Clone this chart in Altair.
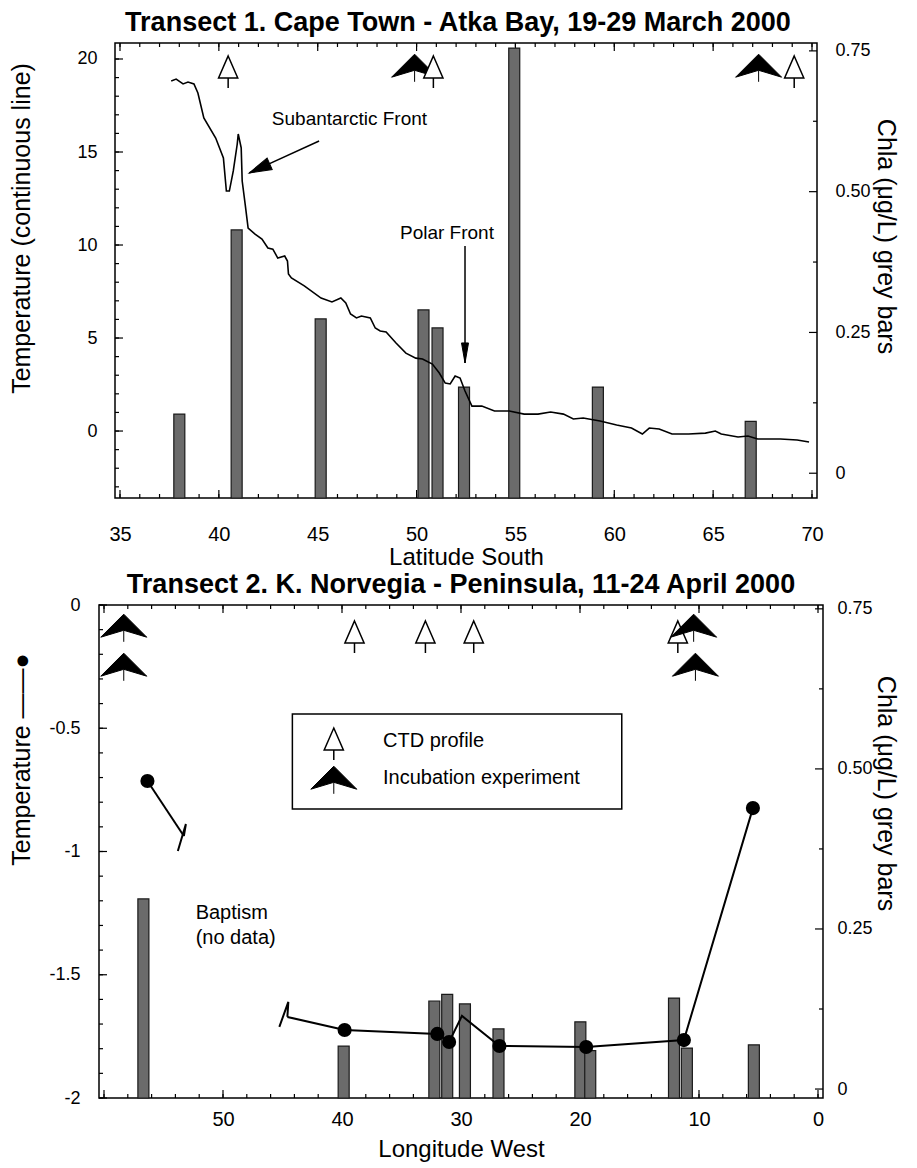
import altair as alt
import pandas as pd

# ---------------- Transect 1 : Cape Town - Atka Bay ----------------
t1_lat = [37.59, 37.84, 38.19, 38.44, 38.74, 38.94, 39.24, 39.84, 40.23, 40.38, 40.53, 40.73, 40.93, 40.98,
          41.13, 41.18, 41.33, 41.48, 41.83, 42.18, 42.48, 42.73, 42.98, 43.33, 43.47, 43.52, 43.67, 44.32,
          45.17, 45.72, 46.17, 46.42, 46.66, 46.96, 47.21, 47.66, 47.91, 48.16, 48.46, 48.96, 49.46, 49.96,
          50.30, 50.80, 51.15, 51.45, 51.70, 51.95, 52.20, 52.45, 52.80, 53.30, 53.94, 54.69, 55.44, 56.14,
          56.78, 57.43, 57.93, 58.43, 59.28, 60.12, 60.87, 61.42, 61.77, 62.27, 62.92, 63.76, 64.61, 65.11,
          65.41, 66.26, 66.76, 67.25, 68.40, 69.25, 69.85]
t1_temp = [18.82, 18.92, 18.66, 18.76, 18.66, 18.17, 16.83, 15.75, 14.68, 12.90, 12.90, 13.98, 15.43, 15.97,
           15.22, 13.44, 12.20, 10.91, 10.59, 10.32, 9.84, 9.78, 9.30, 9.41, 9.14, 8.44, 8.23, 7.80,
           7.15, 6.94, 7.15, 6.88, 6.29, 6.08, 6.18, 6.08, 5.54, 5.38, 5.32, 4.73, 4.19, 3.92,
           3.87, 3.60, 3.12, 2.58, 2.53, 2.96, 2.85, 2.15, 1.34, 1.34, 1.08, 1.08, 0.91, 0.91,
           1.02, 0.91, 0.65, 0.70, 0.54, 0.32, 0.16, -0.16, 0.16, 0.11, -0.16, -0.16, -0.11, 0.0,
           -0.16, -0.32, -0.27, -0.43, -0.43, -0.48, -0.59]
t1_bar_lat = [38.0, 40.9, 45.15, 50.35, 51.06, 52.4, 54.94, 59.17, 66.9]
t1_bar_chla = [0.105, 0.432, 0.274, 0.290, 0.258, 0.153, 0.755, 0.153, 0.092]
t1_ctd_lat = [40.47, 50.85, 69.1]
t1_inc_lat = [49.9, 67.3]
t1_text = ["Subantarctic Front", "Polar Front"]
t1_text_lat = [42.68, 49.16]
t1_text_temp = [16.77, 10.65]
t1_arrow_lat = [45.07, 52.45]
t1_arrow_temp = [15.59, 9.95]
t1_arrow_tip_lat = [41.53, 52.45]
t1_arrow_tip_temp = [13.87, 3.66]
t1_x_major = [35, 40, 45, 50, 55, 60, 65, 70]
t1_x_minor = list(range(35, 71))
t1_temp_major = [0, 5, 10, 15, 20]
t1_temp_minor = list(range(-3, 21))
t1_chla_major = [0, 0.25, 0.5, 0.75]
t1_chla_minor = [0.125, 0.375, 0.625]

# ---------------- Transect 2 : K. Norvegia - Peninsula ----------------
t2_line_seg = [1, 1, 2, 2, 2, 2, 2, 2, 2, 2, 2]
t2_line_lon = [56.35, 53.29, 44.59, 39.78, 31.99, 31.0, 29.92, 26.77, 19.48, 11.27, 5.47]
t2_line_temp = [-0.714, -0.937, -1.671, -1.724, -1.740, -1.773, -1.667, -1.789, -1.793, -1.765, -0.824]
t2_dot_lon = [56.35, 39.78, 31.99, 31.0, 26.77, 19.48, 11.27, 5.47]
t2_dot_temp = [-0.714, -1.724, -1.740, -1.773, -1.789, -1.793, -1.765, -0.824]
t2_bar_lon = [56.69, 39.86, 32.24, 31.16, 29.67, 26.85, 19.97, 19.14, 12.1, 11.02, 5.39]
t2_bar_chla = [0.297, 0.067, 0.1375, 0.148, 0.133, 0.094, 0.105, 0.06, 0.142, 0.064, 0.069]
t2_ctd_lon = [38.95, 32.99, 28.93, 11.78]
t2_inc_upper_lon = [58.34, 10.45]
t2_inc_lower_lon = [58.34, 10.3]
t2_text = ["Baptism", "(no data)"]
t2_text_lon = [52.3, 52.3]
t2_text_temp = [-1.25, -1.351]
legend_box_lon = [44.17, 16.49]
legend_box_temp = [-0.442, -0.828]
legend_labels = ["CTD profile", "Incubation experiment"]
legend_sym_lon = 40.69
legend_label_lon = 36.55
legend_sym_temp = [-0.564, -0.710]
legend_label_temp = [-0.552, -0.702]
t2_x_major = [60, 50, 40, 30, 20, 10, 0]
t2_x_labels = [50, 40, 30, 20, 10, 0]
t2_x_minor = list(range(0, 61, 2))
t2_temp_major = [0, -0.5, -1, -1.5, -2]
t2_temp_minor = [round(-0.1 * k, 1) for k in range(21)]
t2_chla_major = [0, 0.25, 0.5, 0.75]
t2_chla_minor = [0.125, 0.375, 0.625]

FONT = "Liberation Sans, Arial, sans-serif"
BAR_FILL = "#6b6b6b"
CHLA_TITLE = "Chla (μg/L)   grey bars"

CTD_PATH = "M0,-1L0.6,0.375L-0.6,0.375Z M0,0.375L0,1"
INC_PATH = "M0,-0.6L1,0.4L0,0.1L-1,0.4Z M0,0.1L0,0.6"
HEAD_SHORT = "M0,0L0.5,1.8L-0.5,1.8Z"
HEAD_LONG = "M0,0L0.35,2L-0.35,2Z"
BRK_A = "M0,0L0.17,-1L-0.5,1.25"
BRK_B = "M0,0L0.08,-1.25L-0.67,0.83"

MAJ, MIN = 8, 4

chla_expr = "datum.value == 0 ? '0' : format(datum.value, '.2f')"
plain_expr = "'' + datum.value"


def lab_axis(orient, values, pad, size=18, expr=plain_expr, **kw):
    return alt.Axis(orient=orient, values=values, ticks=False, domain=False, grid=False, labels=True,
                    labelPadding=pad, labelFontSize=size, labelFont=FONT, labelColor="black",
                    labelExpr=expr, titleFont=FONT, titleFontWeight="normal", titleColor="black", **kw)


def tick_layers(xvals_maj, xvals_min, yL_maj, yL_min, yR_maj, yR_min, xs, ts, cs, left, right, H):
    out = []
    for vals, ln in ((xvals_maj, MAJ), (xvals_min, MIN)):
        df = pd.DataFrame({"v": vals})
        for y0, y1 in ((H, H - ln), (0, ln)):
            out.append(alt.Chart(df).mark_rule(color="black", strokeWidth=1.2).encode(
                x=alt.X("v:Q", scale=xs, axis=None), y=alt.value(y0), y2=alt.value(y1)))
    for vals, ln, sc, x0, x1 in ((yL_maj, MAJ, ts, left, left + MAJ), (yL_min, MIN, ts, left, left + MIN),
                                 (yR_maj, MAJ, cs, right, right - MAJ), (yR_min, MIN, cs, right, right - MIN)):
        df = pd.DataFrame({"v": vals})
        out.append(alt.Chart(df).mark_rule(color="black", strokeWidth=1.2).encode(
            y=alt.Y("v:Q", scale=sc, axis=None), x=alt.value(x0), x2=alt.value(x1)))
    return out


def title_params(text, offset):
    return alt.TitleParams(text, font=FONT, fontSize=27, fontWeight="bold", color="black",
                           anchor="middle", baseline="alphabetic", offset=offset)


# ================= Panel 1 =================
W1, H1, XOFF = 718, 455, 16
xs1 = alt.Scale(domain=[35, 70], range=[XOFF, W1], nice=False, zero=False)
ts1 = alt.Scale(domain=[-3.6, 20.86], nice=False, zero=False)
cs1 = alt.Scale(domain=[-0.044, 0.764], nice=False, zero=False)

line1_df = pd.DataFrame({"lat": t1_lat, "temp": t1_temp, "i": range(len(t1_lat))})
bar1_df = pd.DataFrame({"lat": t1_bar_lat, "chla": t1_bar_chla})
ctd1_df = pd.DataFrame({"lat": t1_ctd_lat})
inc1_df = pd.DataFrame({"lat": t1_inc_lat})
txt1_df = pd.DataFrame({"lat": t1_text_lat, "temp": t1_text_temp, "t": t1_text})
arr1_df = pd.DataFrame({"lat": t1_arrow_lat, "temp": t1_arrow_temp,
                        "lat2": t1_arrow_tip_lat, "temp2": t1_arrow_tip_temp})

frame1 = alt.Chart(pd.DataFrame({"k": [0]})).mark_rect(filled=False, stroke="black", strokeWidth=1.5).encode(
    x=alt.value(XOFF), x2=alt.value(W1), y=alt.value(0), y2=alt.value(H1))
bars1 = alt.Chart(bar1_df).mark_bar(size=11, fill=BAR_FILL, stroke="#1a1a1a", strokeWidth=1.2).encode(
    x=alt.X("lat:Q", scale=xs1, axis=None),
    y=alt.Y("chla:Q", scale=cs1, title=CHLA_TITLE,
            axis=lab_axis("right", t1_chla_major, 18, expr=chla_expr, titleFontSize=25, titleAngle=90,
                          titleBaseline="bottom", titleAlign="center", titleX=55, titleY=193)),
    y2=alt.datum(-0.044),
)
line1 = alt.Chart(line1_df).mark_line(color="black", strokeWidth=1.6).encode(
    x=alt.X("lat:Q", scale=xs1, title="Latitude South",
            axis=lab_axis("bottom", t1_x_major, 26, size=20, titleFontSize=24, titlePadding=1)),
    y=alt.Y("temp:Q", scale=ts1, title="Temperature (continuous line)",
            axis=lab_axis("left", t1_temp_major, 18, offset=-XOFF, titleFontSize=25, titleAngle=-90,
                          titleBaseline="bottom", titleAlign="center", titleX=-81, titleY=185)),
    order="i:Q",
)
txt1 = alt.Chart(txt1_df).mark_text(align="left", baseline="middle", font=FONT, fontSize=19,
                                    color="black").encode(
    x=alt.X("lat:Q", scale=xs1, axis=None),
    y=alt.Y("temp:Q", scale=ts1, axis=None),
    text="t:N",
)
arrline1 = alt.Chart(arr1_df).mark_rule(color="black", strokeWidth=1.5).encode(
    x=alt.X("lat:Q", scale=xs1, axis=None), x2="lat2:Q",
    y=alt.Y("temp:Q", scale=ts1, axis=None), y2="temp2:Q",
)
head_saf = alt.Chart(arr1_df.iloc[[0]]).mark_point(shape=HEAD_SHORT, size=625, filled=True, fill="black",
                                                   stroke="black", strokeWidth=1, opacity=1, angle=246).encode(
    x=alt.X("lat2:Q", scale=xs1, axis=None),
    y=alt.Y("temp2:Q", scale=ts1, axis=None),
)
head_pf = alt.Chart(arr1_df.iloc[[1]]).mark_point(shape=HEAD_LONG, size=400, filled=True, fill="black",
                                                  stroke="black", strokeWidth=1, opacity=1, angle=180).encode(
    x=alt.X("lat2:Q", scale=xs1, axis=None),
    y=alt.Y("temp2:Q", scale=ts1, axis=None),
)
inc1 = alt.Chart(inc1_df).mark_point(shape=INC_PATH, size=2116, filled=True, fill="black", stroke="black",
                                     strokeWidth=1, opacity=1).encode(
    x=alt.X("lat:Q", scale=xs1, axis=None), y=alt.value(25))
ctd1 = alt.Chart(ctd1_df).mark_point(shape=CTD_PATH, size=1024, filled=True, fill="white", stroke="black",
                                     strokeWidth=1.5, opacity=1).encode(
    x=alt.X("lat:Q", scale=xs1, axis=None), y=alt.value(29))

ticks1 = tick_layers(t1_x_major, t1_x_minor, t1_temp_major, t1_temp_minor, t1_chla_major, t1_chla_minor,
                     xs1, ts1, cs1, XOFF, W1, H1)

panel1 = alt.layer(
    frame1, *ticks1, bars1, line1, txt1, arrline1, head_saf, head_pf, inc1, ctd1
).resolve_scale(y="independent").resolve_axis(x="independent", y="independent").properties(
    width=W1, height=H1, view=alt.ViewBackground(stroke="transparent"),
    title=title_params("Transect 1. Cape Town - Atka Bay, 19-29 March 2000", -16),
)

# ================= Panel 2 =================
W2, H2 = 724, 493
xs2 = alt.Scale(domain=[60, 0], nice=False, zero=False)
ts2 = alt.Scale(domain=[-2, 0], nice=False, zero=False)
cs2 = alt.Scale(domain=[-0.014, 0.756], nice=False, zero=False)

line2_df = pd.DataFrame({"lon": t2_line_lon, "temp": t2_line_temp, "seg": t2_line_seg,
                         "i": range(len(t2_line_lon))})
dot2_df = pd.DataFrame({"lon": t2_dot_lon, "temp": t2_dot_temp})
bar2_df = pd.DataFrame({"lon": t2_bar_lon, "chla": t2_bar_chla})
ctd2_df = pd.DataFrame({"lon": t2_ctd_lon})
incu2_df = pd.DataFrame({"lon": t2_inc_upper_lon})
incl2_df = pd.DataFrame({"lon": t2_inc_lower_lon})
txt2_df = pd.DataFrame({"lon": t2_text_lon, "temp": t2_text_temp, "t": t2_text})
box_df = pd.DataFrame({"lon": [legend_box_lon[0]], "lon2": [legend_box_lon[1]],
                       "temp": [legend_box_temp[0]], "temp2": [legend_box_temp[1]]})
leg_df = pd.DataFrame({"lon": [legend_sym_lon] * 2, "temp": legend_sym_temp,
                       "llon": [legend_label_lon] * 2, "ltemp": legend_label_temp, "t": legend_labels})
brk_a_df = line2_df.iloc[[1]]
brk_b_df = line2_df.iloc[[2]]

bars2 = alt.Chart(bar2_df).mark_bar(size=11, fill=BAR_FILL, stroke="#1a1a1a", strokeWidth=1.2).encode(
    x=alt.X("lon:Q", scale=xs2, axis=None),
    y=alt.Y("chla:Q", scale=cs2, title=CHLA_TITLE,
            axis=lab_axis("right", t2_chla_major, 14, expr=chla_expr, titleFontSize=25, titleAngle=90,
                          titleBaseline="bottom", titleAlign="center", titleX=49, titleY=188)),
    y2=alt.datum(-0.014),
)
line2 = alt.Chart(line2_df).mark_line(color="black", strokeWidth=2).encode(
    x=alt.X("lon:Q", scale=xs2, title="Longitude West",
            axis=lab_axis("bottom", t2_x_labels, 11, size=20, titleFontSize=24, titlePadding=8)),
    y=alt.Y("temp:Q", scale=ts2, title="Temperature ——●",
            axis=lab_axis("left", t2_temp_major, 19, titleFontSize=25, titleAngle=-90,
                          titleBaseline="bottom", titleAlign="center", titleX=-65, titleY=154)),
    detail="seg:N",
    order="i:Q",
)
dots2 = alt.Chart(dot2_df).mark_circle(size=200, color="black", opacity=1).encode(
    x=alt.X("lon:Q", scale=xs2, axis=None),
    y=alt.Y("temp:Q", scale=ts2, axis=None),
)
brk_a = alt.Chart(brk_a_df).mark_point(shape=BRK_A, size=576, filled=False, stroke="black",
                                       strokeWidth=2, opacity=1).encode(
    x=alt.X("lon:Q", scale=xs2, axis=None), y=alt.Y("temp:Q", scale=ts2, axis=None))
brk_b = alt.Chart(brk_b_df).mark_point(shape=BRK_B, size=576, filled=False, stroke="black",
                                       strokeWidth=2, opacity=1).encode(
    x=alt.X("lon:Q", scale=xs2, axis=None), y=alt.Y("temp:Q", scale=ts2, axis=None))
txt2 = alt.Chart(txt2_df).mark_text(align="left", baseline="middle", font=FONT, fontSize=20,
                                    color="black").encode(
    x=alt.X("lon:Q", scale=xs2, axis=None),
    y=alt.Y("temp:Q", scale=ts2, axis=None),
    text="t:N",
)
box2 = alt.Chart(box_df).mark_rect(fill="white", stroke="black", strokeWidth=1.5).encode(
    x=alt.X("lon:Q", scale=xs2, axis=None), x2="lon2:Q",
    y=alt.Y("temp:Q", scale=ts2, axis=None), y2="temp2:Q",
)
leg_ctd = alt.Chart(leg_df.iloc[[0]]).mark_point(shape=CTD_PATH, size=1024, filled=True, fill="white",
                                                 stroke="black", strokeWidth=1.5, opacity=1).encode(
    x=alt.X("lon:Q", scale=xs2, axis=None), y=alt.Y("temp:Q", scale=ts2, axis=None))
leg_inc = alt.Chart(leg_df.iloc[[1]]).mark_point(shape=INC_PATH, size=2116, filled=True, fill="black",
                                                 stroke="black", strokeWidth=1, opacity=1).encode(
    x=alt.X("lon:Q", scale=xs2, axis=None), y=alt.Y("temp:Q", scale=ts2, axis=None))
leg_txt = alt.Chart(leg_df).mark_text(align="left", baseline="middle", font=FONT, fontSize=20,
                                      color="black").encode(
    x=alt.X("llon:Q", scale=xs2, axis=None),
    y=alt.Y("ltemp:Q", scale=ts2, axis=None),
    text="t:N",
)
ctd2 = alt.Chart(ctd2_df).mark_point(shape=CTD_PATH, size=1024, filled=True, fill="white", stroke="black",
                                     strokeWidth=1.5, opacity=1).encode(
    x=alt.X("lon:Q", scale=xs2, axis=None), y=alt.value(32))
incu2 = alt.Chart(incu2_df).mark_point(shape=INC_PATH, size=2116, filled=True, fill="black", stroke="black",
                                       strokeWidth=1, opacity=1).encode(
    x=alt.X("lon:Q", scale=xs2, axis=None), y=alt.value(23))
incl2 = alt.Chart(incl2_df).mark_point(shape=INC_PATH, size=2116, filled=True, fill="black", stroke="black",
                                       strokeWidth=1, opacity=1).encode(
    x=alt.X("lon:Q", scale=xs2, axis=None), y=alt.value(62))

ticks2 = tick_layers(t2_x_major, t2_x_minor, t2_temp_major, t2_temp_minor, t2_chla_major, t2_chla_minor,
                     xs2, ts2, cs2, 0, W2, H2)

panel2 = alt.layer(
    *ticks2, bars2, line2, dots2, brk_a, brk_b, txt2,
    box2, leg_ctd, leg_inc, leg_txt, ctd2, incu2, incl2
).resolve_scale(y="independent").resolve_axis(x="independent", y="independent").properties(
    width=W2, height=H2,
    title=title_params("Transect 2. K. Norvegia - Peninsula,  11-24 April 2000", -24),
)

chart = alt.vconcat(panel1, panel2, spacing=0).properties(
    padding={"left": 0, "top": 0, "right": 10, "bottom": 0}
).configure_view(stroke="black", strokeWidth=1.5).configure_axis(grid=False)

chart.save("out.html", embed_options={"renderer": "svg", "actions": False})
